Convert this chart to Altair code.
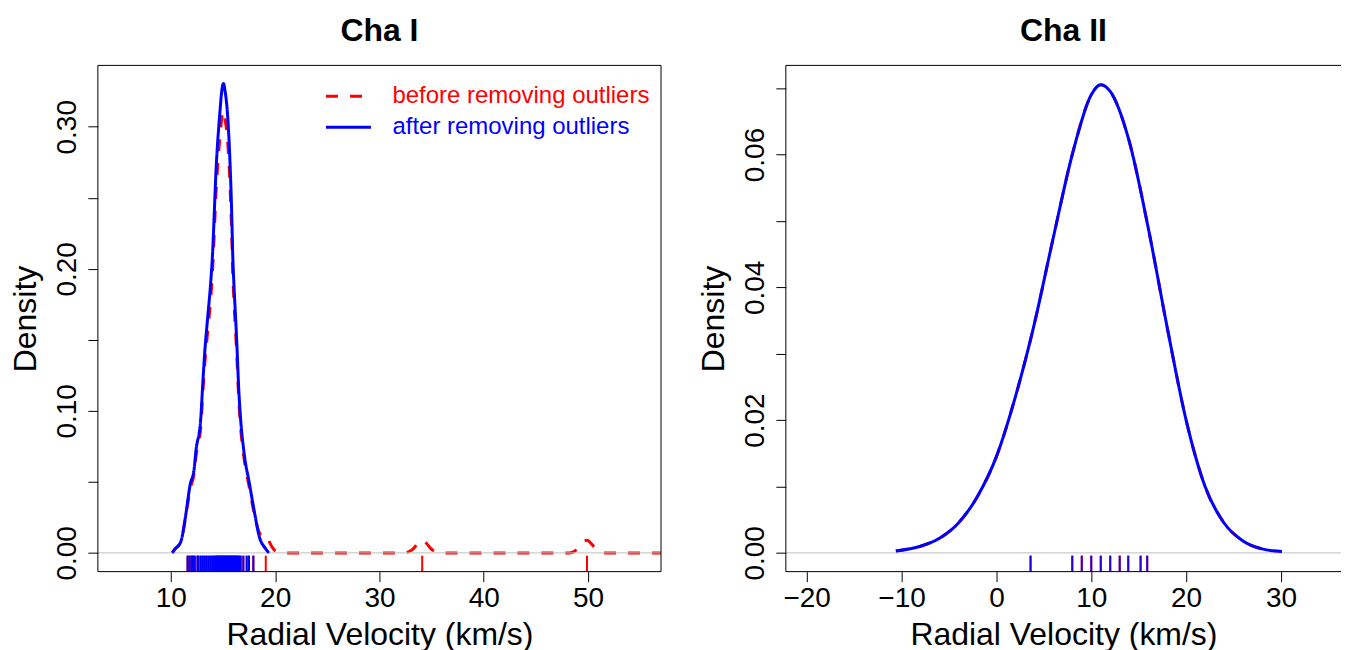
import altair as alt
import pandas as pd

FONT = "Liberation Sans"
BEFORE = "before removing outliers"
AFTER = "after removing outliers"

# ---------------- Cha I : density curves ----------------
after_x = [10.15, 10.32, 10.96, 11.37, 11.85, 12.23, 12.39, 12.87, 13.05, 13.25, 13.52,
           13.80, 13.97, 14.37, 14.71, 14.84, 15.04, 15.20, 15.42, 15.67, 15.83, 15.93,
           16.05, 16.21, 16.36, 16.49, 16.68, 17.01, 17.55, 18.13, 18.44, 19.08, 19.40]
after_y = [0.0, 0.002, 0.008, 0.024, 0.048, 0.059, 0.071, 0.095, 0.118, 0.1415, 0.165,
           0.1885, 0.207, 0.275, 0.311, 0.3225, 0.3305, 0.325, 0.31, 0.275, 0.24, 0.21,
           0.1885, 0.165, 0.1415, 0.118, 0.095, 0.071, 0.048, 0.024, 0.0125, 0.003, 0.0]

before_x = [10.10, 10.30, 10.96, 11.37, 11.85, 12.23, 12.39, 12.87, 13.05, 13.25, 13.52,
            13.80, 13.97, 14.37, 14.71, 14.90, 15.05, 15.20, 15.42, 15.67, 15.83, 15.93,
            16.05, 16.21, 16.36, 16.49, 16.68, 17.01, 17.55, 18.13, 18.50, 18.90, 19.15,
            19.56, 20.00, 20.60, 32.30, 32.80, 33.26, 33.60, 34.06, 34.50, 34.86, 35.30,
            35.90, 48.20, 48.70, 49.10, 49.50, 49.90, 50.40, 50.80, 51.30, 51.80, 57.00]
before_y = [0.0, 0.002, 0.008, 0.023, 0.045, 0.056, 0.067, 0.089, 0.111, 0.133, 0.155,
            0.177, 0.195, 0.259, 0.293, 0.307, 0.311, 0.305, 0.292, 0.259, 0.226, 0.198,
            0.177, 0.155, 0.133, 0.111, 0.089, 0.067, 0.045, 0.023, 0.014, 0.0115, 0.012,
            0.006, 0.0015, 0.0, 0.0, 0.0008, 0.003, 0.0062, 0.0089, 0.0068, 0.0035, 0.001,
            0.0, 0.0, 0.0012, 0.0042, 0.0073, 0.0089, 0.0058, 0.0025, 0.0006, 0.0, 0.0]

# rug positions (km/s)
cha1_rug_after = [11.60, 11.79, 11.98, 12.13, 12.29, 12.55, 12.65, 12.87, 13.06, 13.25,
                  13.44, 13.63, 13.82, 13.99, 14.14, 14.30, 14.40, 14.50, 14.60, 14.70,
                  14.80, 14.90, 15.00, 15.10, 15.20, 15.30, 15.40, 15.50, 15.60, 15.70,
                  15.80, 15.90, 16.00, 16.10, 16.20, 16.30, 16.40, 16.53, 16.69, 16.95,
                  17.27, 17.49, 17.91]
cha1_rug_outliers = [19.10, 34.10, 49.90]

# ---------------- Cha II ----------------
cha2_x = [-10.6, -8.0, -6.0, -4.0, -2.0, 0.0, 2.0, 4.0, 6.0, 8.0, 10.0, 11.0, 12.0,
          14.0, 16.0, 18.0, 20.0, 22.0, 24.0, 26.0, 28.0, 30.1]
cha2_y = [0.0003, 0.001, 0.0022, 0.0045, 0.0085, 0.0145, 0.0235, 0.0345, 0.0475, 0.060,
          0.069, 0.0705, 0.0695, 0.062, 0.049, 0.034, 0.020, 0.010, 0.0045, 0.0018,
          0.0006, 0.0002]
cha2_rug = [3.6, 8.0, 9.0, 10.0, 11.0, 12.0, 13.0, 13.9, 15.2, 15.9]

W1, W2, H = 564, 556, 507
RUG = 16
XT = "Radial Velocity (km/s)"
YT = "Density"

axis_style = dict(domain=False, grid=False, ticks=True, tickColor="black", tickSize=10,
                  tickWidth=1, labelFont=FONT, labelFontSize=28, labelColor="black",
                  titleFont=FONT, titleFontSize=32, titleFontWeight="normal",
                  titleColor="black", labelOverlap=False, labelFlush=False, labelBound=False)


def xaxis(values):
    return alt.Axis(values=values, format="d", labelPadding=3, titlePadding=7, **axis_style)


def yaxis(values, step):
    return alt.Axis(values=values, labelAngle=270, labelAlign="center",
                    labelBaseline="alphabetic", labelPadding=12, titlePadding=11,
                    labelExpr=f"round(datum.value*100) % {step} == 0 ? format(datum.value, '.2f') : ''",
                    **axis_style)


def frame(width, right=True):
    one = pd.DataFrame({"k": [0]})
    parts = [
        alt.Chart(one).mark_rule(color="black", strokeWidth=1).encode(
            x=alt.value(0), x2=alt.value(width), y=alt.value(0)),
        alt.Chart(one).mark_rule(color="black", strokeWidth=1).encode(
            x=alt.value(0), x2=alt.value(width), y=alt.value(H)),
        alt.Chart(one).mark_rule(color="black", strokeWidth=1).encode(
            x=alt.value(0), y=alt.value(0), y2=alt.value(H)),
    ]
    if right:
        parts.append(alt.Chart(one).mark_rule(color="black", strokeWidth=1).encode(
            x=alt.value(width), y=alt.value(0), y2=alt.value(H)))
    return parts


def title(text):
    return alt.TitleParams(text, font=FONT, fontSize=32, fontWeight="bold", color="black",
                           anchor="middle", offset=17)


# ---------------- left panel ----------------
xs1 = alt.Scale(domain=[3.0, 57.0], nice=False, zero=False)
ys1 = alt.Scale(domain=[-0.0132, 0.3432], nice=False, zero=False)

curves1 = pd.concat([
    pd.DataFrame({"x": before_x, "y": before_y, "series": BEFORE}),
    pd.DataFrame({"x": after_x, "y": after_y, "series": AFTER}),
])
color_scale = alt.Scale(domain=[BEFORE, AFTER], range=["#ff0000", "#0000ff"])
dash_scale = alt.Scale(domain=[BEFORE, AFTER], range=[[12, 12], [1, 0]])
legend = alt.Legend(title=None, orient="none", legendX=227, legendY=19, padding=0,
                    symbolType="stroke", symbolStrokeWidth=3, symbolSize=45 * 45,
                    symbolOffset=0, labelOffset=20, labelFont=FONT, labelFontSize=24,
                    rowPadding=7, clipHeight=24, labelLimit=0,
                    labelColor=alt.ExprRef(f"datum.label == '{BEFORE}' ? '#ff0000' : '#0000ff'"))

base1 = alt.Chart(curves1)
red1 = base1.transform_filter(alt.datum.series == BEFORE).mark_line(
    strokeWidth=3, interpolate="monotone", clip=True).encode(
    x=alt.X("x:Q", scale=xs1, axis=xaxis([10, 20, 30, 40, 50]), title=XT),
    y=alt.Y("y:Q", scale=ys1, axis=yaxis([0, 0.05, 0.10, 0.15, 0.20, 0.25, 0.30], 10), title=YT),
    color=alt.Color("series:N", scale=color_scale, legend=legend),
    strokeDash=alt.StrokeDash("series:N", scale=dash_scale, legend=legend),
    order=alt.Order("x:Q"),
)
zero1 = alt.Chart(pd.DataFrame({"y": [0.0]})).mark_rule(color="#bebebe", strokeWidth=1).encode(
    y=alt.Y("y:Q", scale=ys1, title=YT))
blue1 = base1.transform_filter(alt.datum.series == AFTER).mark_line(
    strokeWidth=3, interpolate="monotone", clip=True).encode(
    x=alt.X("x:Q", scale=xs1, title=XT),
    y=alt.Y("y:Q", scale=ys1, title=YT),
    color=alt.Color("series:N", scale=color_scale, legend=legend),
    strokeDash=alt.StrokeDash("series:N", scale=dash_scale, legend=legend),
    order=alt.Order("x:Q"),
)
rug_red1 = alt.Chart(pd.DataFrame({"x": cha1_rug_after + cha1_rug_outliers})).mark_rule(
    color="#ff0000", strokeWidth=2).encode(
    x=alt.X("x:Q", scale=xs1, title=XT), y=alt.value(H), y2=alt.value(H - RUG))
rug_blue1 = alt.Chart(pd.DataFrame({"x": cha1_rug_after})).mark_rule(
    color="#0000ff", strokeWidth=2).encode(
    x=alt.X("x:Q", scale=xs1, title=XT), y=alt.value(H), y2=alt.value(H - RUG))

left = alt.layer(red1, zero1, blue1, rug_red1, rug_blue1, *frame(W1)).properties(
    width=W1, height=H, title=title("Cha I"))

# ---------------- right panel ----------------
xs2 = alt.Scale(domain=[-22.2, 36.33], nice=False, zero=False)
ys2 = alt.Scale(domain=[-0.002824, 0.07342], nice=False, zero=False)
curve2 = pd.DataFrame({"x": cha2_x, "y": cha2_y})

red2 = alt.Chart(curve2).mark_line(color="#ff0000", strokeWidth=3, strokeDash=[12, 12],
                                   interpolate="monotone").encode(
    x=alt.X("x:Q", scale=xs2, axis=xaxis([-20, -10, 0, 10, 20, 30]), title=XT),
    y=alt.Y("y:Q", scale=ys2, axis=yaxis([0, 0.01, 0.02, 0.03, 0.04, 0.05, 0.06, 0.07], 2), title=YT),
    order=alt.Order("x:Q"))
zero2 = alt.Chart(pd.DataFrame({"y": [0.0]})).mark_rule(color="#bebebe", strokeWidth=1).encode(
    y=alt.Y("y:Q", scale=ys2, title=YT))
blue2 = alt.Chart(curve2).mark_line(color="#0000ff", strokeWidth=3, interpolate="monotone").encode(
    x=alt.X("x:Q", scale=xs2, title=XT), y=alt.Y("y:Q", scale=ys2, title=YT),
    order=alt.Order("x:Q"))
rug_red2 = alt.Chart(pd.DataFrame({"x": cha2_rug})).mark_rule(color="#ff0000", strokeWidth=2).encode(
    x=alt.X("x:Q", scale=xs2, title=XT), y=alt.value(H), y2=alt.value(H - RUG))
rug_blue2 = alt.Chart(pd.DataFrame({"x": cha2_rug})).mark_rule(color="#0000ff", strokeWidth=2,
                                                                  opacity=0.85).encode(
    x=alt.X("x:Q", scale=xs2, title=XT), y=alt.value(H), y2=alt.value(H - RUG))

right = alt.layer(red2, zero2, blue2, rug_red2, rug_blue2, *frame(W2, right=False)).properties(
    width=W2, height=H, title=title("Cha II"))

chart = alt.hconcat(left, right, spacing=36).properties(
    padding={"left": 2, "top": 6, "right": 0, "bottom": 0},
    background="white",
).configure_view(stroke=None)

chart.save("out.html", embed_options={"renderer": "svg", "actions": False})
